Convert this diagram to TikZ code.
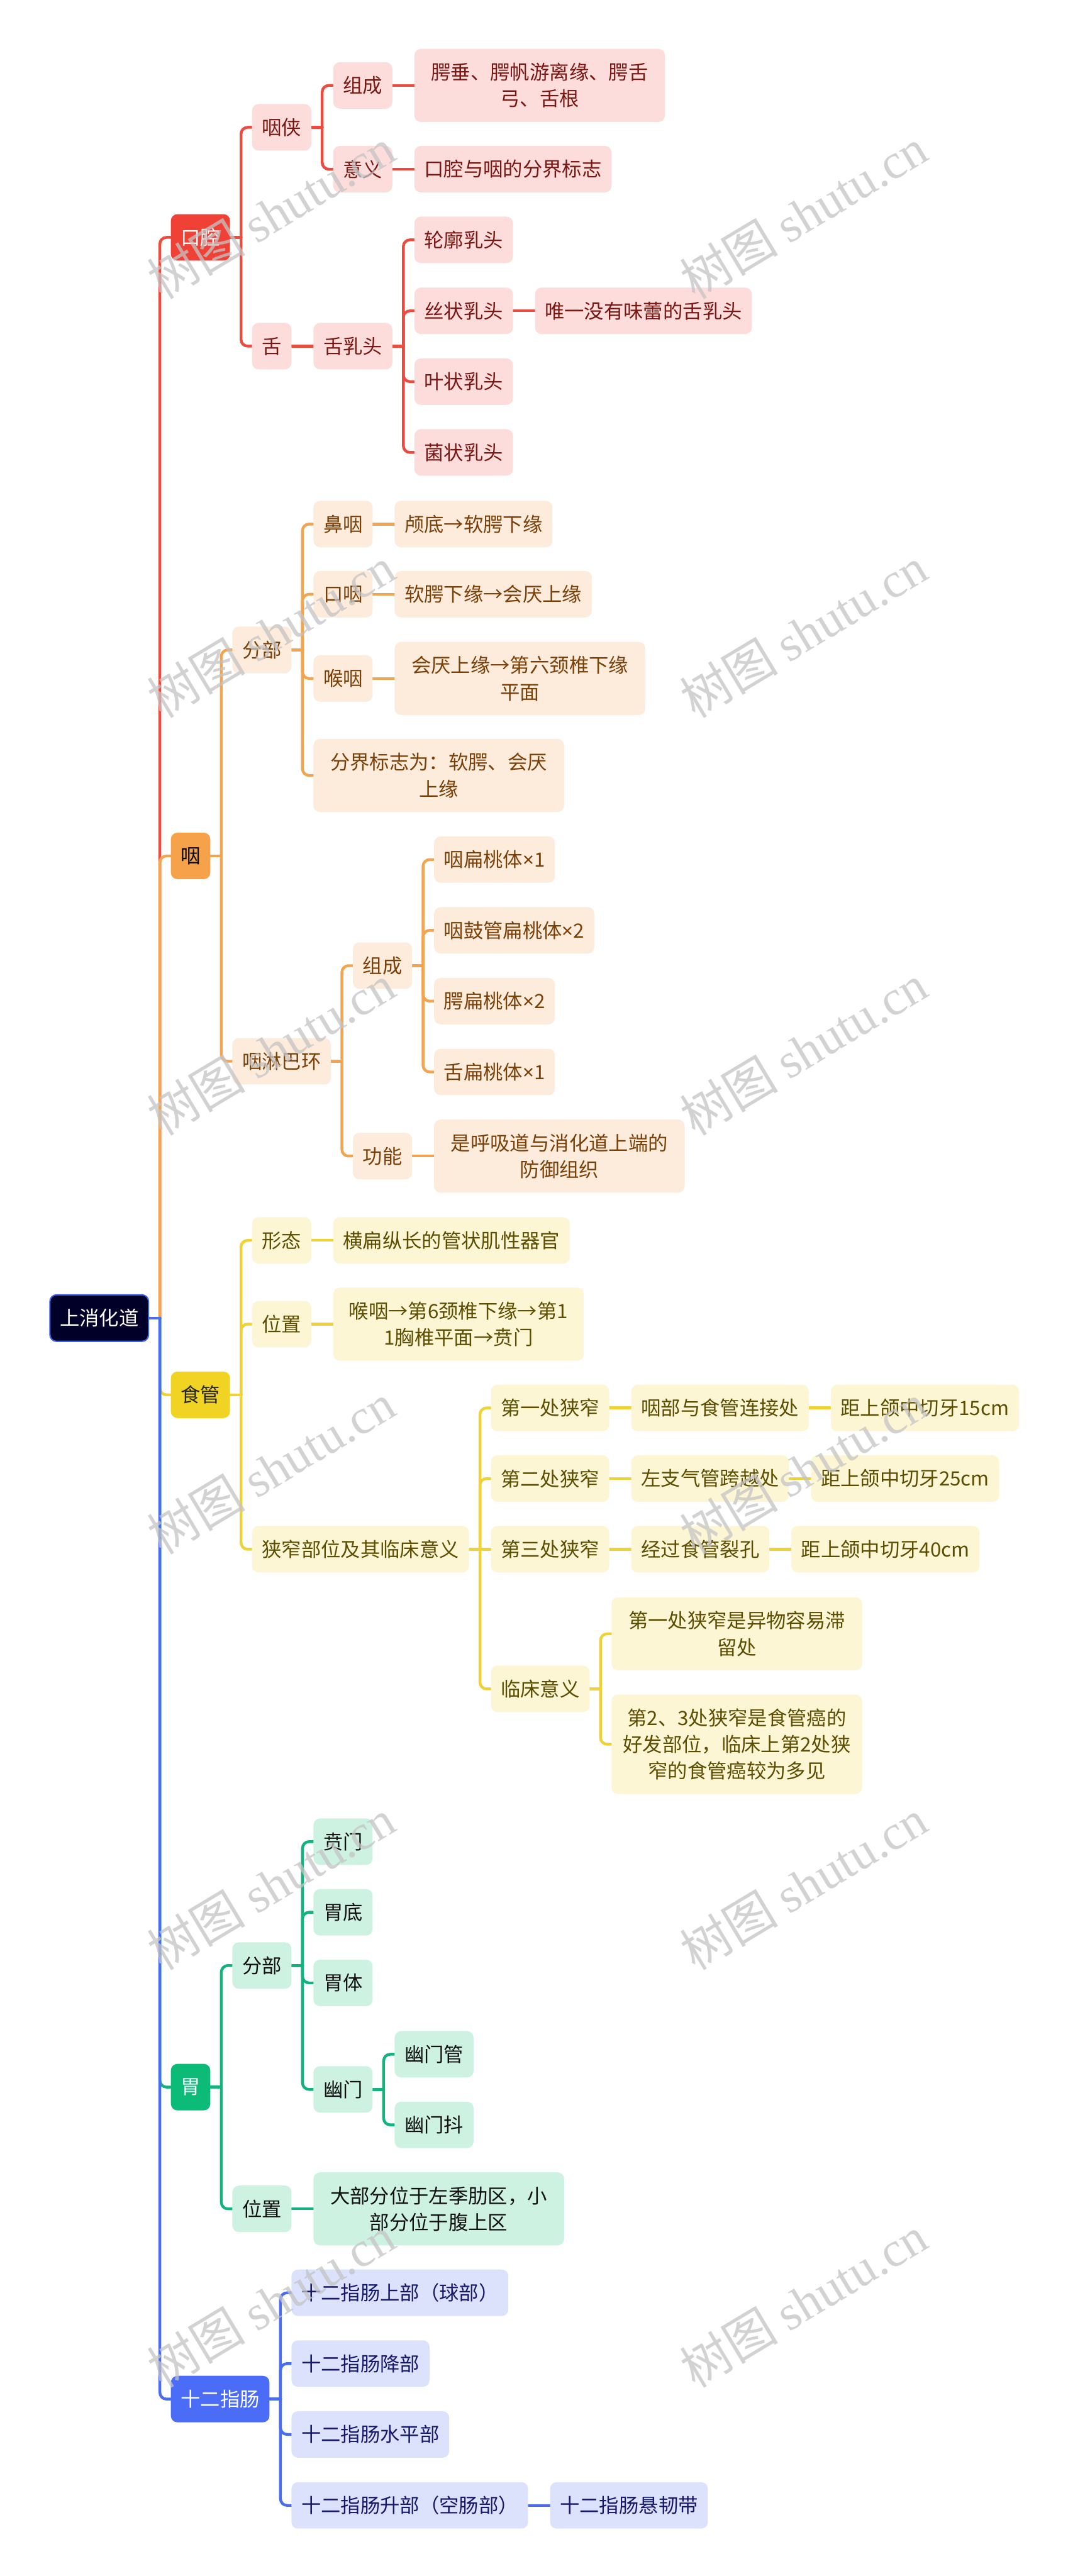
\documentclass[tikz,border=0pt]{standalone}
\usepackage{fontspec}
\setmainfont{Noto Sans CJK SC}
\newfontfamily\wmlatin{Liberation Serif}
\newfontfamily\latinsans{Noto Sans}
\usetikzlibrary{calc}
\pgfdeclarelayer{back}
\pgfdeclarelayer{bg}
\pgfsetlayers{back,bg,main}
\definecolor{rootF}{HTML}{000029}
\definecolor{rootB}{HTML}{3F5FE8}
\definecolor{rL}{HTML}{EE4B3F}
\definecolor{rM}{HTML}{EF4136}
\definecolor{rS}{HTML}{FDDDDC}
\definecolor{rT}{HTML}{7A1712}
\definecolor{oL}{HTML}{F3A44F}
\definecolor{oM}{HTML}{F5A24A}
\definecolor{oS}{HTML}{FDEBDB}
\definecolor{oT}{HTML}{7A4008}
\definecolor{yL}{HTML}{F0D232}
\definecolor{yM}{HTML}{F1D324}
\definecolor{yS}{HTML}{FCF6D4}
\definecolor{yT}{HTML}{5C4D00}
\definecolor{gL}{HTML}{13B47C}
\definecolor{gM}{HTML}{0DBB78}
\definecolor{gS}{HTML}{CEF2E2}
\definecolor{gT}{HTML}{111111}
\definecolor{bL}{HTML}{4A6CF0}
\definecolor{bM}{HTML}{4A6CF7}
\definecolor{bS}{HTML}{DCE2FC}
\definecolor{bT}{HTML}{16186B}
\definecolor{wmC}{HTML}{C4C4C4}
\newcommand\fs{\fontsize{12}{16.2}\selectfont}
\newcommand\mul{{\latinsans ×}}
\newcommand\conn[3]{%
  \draw[xln,#1] (#2.east) -- ([xshift=6.5pt]#2.east);
  \draw[xln,#1,rounded corners=4pt] ([xshift=6.5pt]#2.east) |- (#3.west);}
\newcommand\connS[3]{\draw[xln,#1] (#2.east) -- (#3.west);}
\begin{document}
\begin{tikzpicture}[x=1pt,y=-1pt,
  xbox/.style={rounded corners=4pt, inner xsep=6pt, inner ysep=0pt, minimum height=28.3pt, align=center, anchor=west, font=\fs},
  xwide/.style={minimum width=152.5pt},
  xtwo/.style={minimum height=44.5pt},
  xthree/.style={minimum height=60.6pt},
  xroot/.style={xbox, fill=rootF, draw=rootB, line width=0.8pt, text=white},
  xrm/.style={xbox, fill=rM, text=white},
  xrs/.style={xbox, fill=rS, text=rT, xshift=13pt},
  xom/.style={xbox, fill=oM, text=black},
  xos/.style={xbox, fill=oS, text=oT, xshift=13pt},
  xym/.style={xbox, fill=yM, text=black!85},
  xys/.style={xbox, fill=yS, text=yT, xshift=13pt},
  xgm/.style={xbox, fill=gM, text=white},
  xgs/.style={xbox, fill=gS, text=gT, xshift=13pt},
  xbm/.style={xbox, fill=bM, text=white},
  xbs/.style={xbox, fill=bS, text=bT, xshift=13pt},
  xl1/.style={xshift=13pt},
  xln/.style={line width=1.7pt, line cap=round},
  xwm/.style={text=wmC, opacity=0.75, font=\fontsize{30}{30}\selectfont, inner sep=0pt, rotate=31}
]
\begin{pgfonlayer}{back}
\fill[white] (0,0) rectangle (650,1568);
\end{pgfonlayer}
\useasboundingbox (0,0) rectangle (650,1568);

% root
\node[xroot] (root) at (30,802.3) {上消化道};

% ---------- 口腔 ----------
\node[xrm,xl1] (kq) at (root.east |- 0,144.5) {口腔};
\node[xrs] (yx) at (kq.east |- 0,77.5) {咽侠};
\node[xrs] (she) at (kq.east |- 0,210.7) {舌};
\node[xrs] (zc1) at (yx.east |- 0,52) {组成};
\node[xrs] (yy1) at (yx.east |- 0,103) {意义};
\node[xrs,xwide,xtwo] (zc1a) at (zc1.east) {腭垂、腭帆游离缘、腭舌\\弓、舌根};
\node[xrs] (yy1a) at (yy1.east) {口腔与咽的分界标志};
\node[xrs] (srt) at (she.east) {舌乳头};
\node[xrs] (lk) at (srt.east |- 0,146) {轮廓乳头};
\node[xrs] (sz) at (srt.east |- 0,189.2) {丝状乳头};
\node[xrs] (yz) at (srt.east |- 0,232.3) {叶状乳头};
\node[xrs] (jz) at (srt.east |- 0,275.4) {菌状乳头};
\node[xrs] (wy) at (sz.east) {唯一没有味蕾的舌乳头};

% ---------- 咽 ----------
\node[xom,xl1] (yan) at (root.east |- 0,521) {咽};
\node[xos] (fb) at (yan.east |- 0,395.6) {分部};
\node[xos] (linba) at (yan.east |- 0,646) {咽淋巴环};
\node[xos] (by) at (fb.east |- 0,319) {鼻咽};
\node[xos] (ky) at (fb.east |- 0,361.7) {口咽};
\node[xos] (hy) at (fb.east |- 0,413) {喉咽};
\node[xos,xwide,xtwo] (fj) at (fb.east |- 0,472) {分界标志为：软腭、会厌\\上缘};
\node[xos] (bya) at (by.east) {颅底→软腭下缘};
\node[xos] (kya) at (ky.east) {软腭下缘→会厌上缘};
\node[xos,xwide,xtwo] (hya) at (hy.east) {会厌上缘→第六颈椎下缘\\平面};
\node[xos] (zc2) at (linba.east |- 0,587.8) {组成};
\node[xos] (gn) at (linba.east |- 0,703.7) {功能};
\node[xos] (bt1) at (zc2.east |- 0,523.2) {咽扁桃体\mul1};
\node[xos] (bt2) at (zc2.east |- 0,566.3) {咽鼓管扁桃体\mul2};
\node[xos] (bt3) at (zc2.east |- 0,609.4) {腭扁桃体\mul2};
\node[xos] (bt4) at (zc2.east |- 0,652.5) {舌扁桃体\mul1};
\node[xos,xwide,xtwo] (gna) at (gn.east) {是呼吸道与消化道上端的\\防御组织};

% ---------- 食管 ----------
\node[xym,xl1] (sg) at (root.east |- 0,849) {食管};
\node[xys] (xt) at (sg.east |- 0,755) {形态};
\node[xys] (wz) at (sg.east |- 0,806) {位置};
\node[xys] (xz) at (sg.east |- 0,943) {狭窄部位及其临床意义};
\node[xys] (xta) at (xt.east) {横扁纵长的管状肌性器官};
\node[xys,xwide,xtwo] (wza) at (wz.east) {喉咽→第6颈椎下缘→第1\\1胸椎平面→贲门};
\node[xys] (n1) at (xz.east |- 0,857) {第一处狭窄};
\node[xys] (n2) at (xz.east |- 0,900) {第二处狭窄};
\node[xys] (n3) at (xz.east) {第三处狭窄};
\node[xys] (lc) at (xz.east |- 0,1028) {临床意义};
\node[xys] (n1a) at (n1.east) {咽部与食管连接处};
\node[xys] (n1b) at (n1a.east) {距上颌中切牙15cm};
\node[xys] (n2a) at (n2.east) {左支气管跨越处};
\node[xys] (n2b) at (n2a.east) {距上颌中切牙25cm};
\node[xys] (n3a) at (n3.east) {经过食管裂孔};
\node[xys] (n3b) at (n3a.east) {距上颌中切牙40cm};
\node[xys,xwide,xtwo] (c1) at (lc.east |- 0,994.5) {第一处狭窄是异物容易滞\\留处};
\node[xys,xwide,xthree] (c2) at (lc.east |- 0,1061.7) {第2、3处狭窄是食管癌的\\好发部位，临床上第2处狭\\窄的食管癌较为多见};

% ---------- 胃 ----------
\node[xgm,xl1] (wei) at (root.east |- 0,1270.4) {胃};
\node[xgs] (fb2) at (wei.east |- 0,1196.4) {分部};
\node[xgs] (wz2) at (wei.east |- 0,1344.5) {位置};
\node[xgs] (bm) at (fb2.east |- 0,1121) {贲门};
\node[xgs] (wd) at (fb2.east |- 0,1164) {胃底};
\node[xgs] (wt) at (fb2.east |- 0,1207) {胃体};
\node[xgs] (ym) at (fb2.east |- 0,1271.8) {幽门};
\node[xgs] (ymg) at (ym.east |- 0,1250.4) {幽门管};
\node[xgs] (ymd) at (ym.east |- 0,1293.4) {幽门抖};
\node[xgs,xwide,xtwo] (wz2a) at (wz2.east) {大部分位于左季肋区，小\\部分位于腹上区};

% ---------- 十二指肠 ----------
\node[xbm,xl1] (sez) at (root.east |- 0,1460.3) {十二指肠};
\node[xbs] (s1) at (sez.east |- 0,1395.6) {十二指肠上部（球部）};
\node[xbs] (s2) at (sez.east |- 0,1438.7) {十二指肠降部};
\node[xbs] (s3) at (sez.east |- 0,1481.8) {十二指肠水平部};
\node[xbs] (s4) at (sez.east |- 0,1525) {十二指肠升部（空肠部）};
\node[xbs] (s5) at (s4.east) {十二指肠悬韧带};

% ---------- connectors ----------
\begin{pgfonlayer}{bg}
\conn{rL}{root}{kq}
\conn{rL}{kq}{yx}
\conn{rL}{kq}{she}
\conn{rL}{yx}{zc1}
\conn{rL}{yx}{yy1}
\connS{rL}{zc1}{zc1a}
\connS{rL}{yy1}{yy1a}
\connS{rL}{she}{srt}
\conn{rL}{srt}{lk}
\conn{rL}{srt}{sz}
\conn{rL}{srt}{yz}
\conn{rL}{srt}{jz}
\connS{rL}{sz}{wy}

\conn{oL}{root}{yan}
\conn{oL}{yan}{fb}
\conn{oL}{yan}{linba}
\conn{oL}{fb}{by}
\conn{oL}{fb}{ky}
\conn{oL}{fb}{hy}
\conn{oL}{fb}{fj}
\connS{oL}{by}{bya}
\connS{oL}{ky}{kya}
\connS{oL}{hy}{hya}
\conn{oL}{linba}{zc2}
\conn{oL}{linba}{gn}
\conn{oL}{zc2}{bt1}
\conn{oL}{zc2}{bt2}
\conn{oL}{zc2}{bt3}
\conn{oL}{zc2}{bt4}
\connS{oL}{gn}{gna}

\conn{yL}{root}{sg}
\conn{yL}{sg}{xt}
\conn{yL}{sg}{wz}
\conn{yL}{sg}{xz}
\connS{yL}{xt}{xta}
\connS{yL}{wz}{wza}
\conn{yL}{xz}{n1}
\conn{yL}{xz}{n2}
\connS{yL}{xz}{n3}
\conn{yL}{xz}{lc}
\connS{yL}{n1}{n1a}
\connS{yL}{n1a}{n1b}
\connS{yL}{n2}{n2a}
\connS{yL}{n2a}{n2b}
\connS{yL}{n3}{n3a}
\connS{yL}{n3a}{n3b}
\conn{yL}{lc}{c1}
\conn{yL}{lc}{c2}

\conn{gL}{root}{wei}
\conn{gL}{wei}{fb2}
\conn{gL}{wei}{wz2}
\conn{gL}{fb2}{bm}
\conn{gL}{fb2}{wd}
\conn{gL}{fb2}{wt}
\conn{gL}{fb2}{ym}
\conn{gL}{ym}{ymg}
\conn{gL}{ym}{ymd}
\connS{gL}{wz2}{wz2a}

\conn{bL}{root}{sez}
\conn{bL}{sez}{s1}
\conn{bL}{sez}{s2}
\conn{bL}{sez}{s3}
\conn{bL}{sez}{s4}
\connS{bL}{s4}{s5}
\end{pgfonlayer}

% ---------- watermarks ----------
\foreach \r/\yy in {1/130,2/385,3/639,4/894,5/1147,6/1401}{
  \node[xwm] (wmL\r) at (165,\yy) {树图 {\wmlatin shutu.cn}};
  \node[xwm] (wmR\r) at (489,\yy) {树图 {\wmlatin shutu.cn}};
}
\end{tikzpicture}
\end{document}
